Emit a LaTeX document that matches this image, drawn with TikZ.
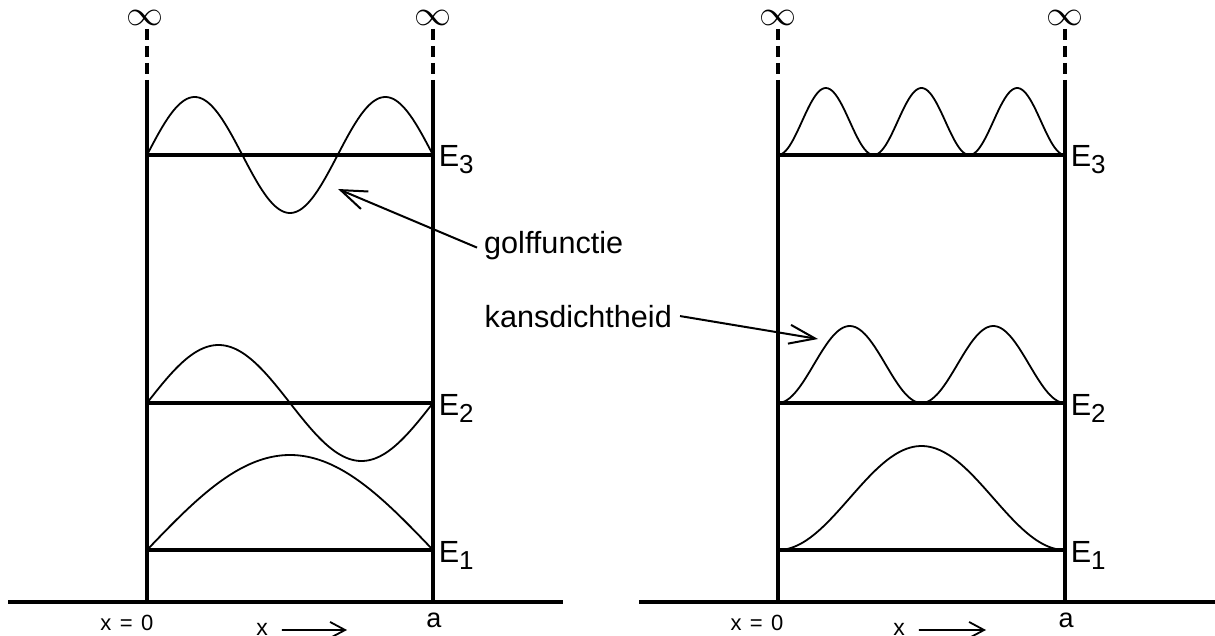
\documentclass[tikz,border=0pt]{standalone}
\usepackage{fontspec}
\setmainfont{Liberation Sans}
\usetikzlibrary{arrows.meta}
\tikzset{
  wall/.style={line width=3.2pt},
  wallinf/.style={line width=3.2pt, dash pattern=on 11pt off 6pt},
  level/.style={line width=3.2pt},
  wave/.style={line width=1.8pt, smooth},
  annot/.style={line width=2pt, -{Straight Barb[length=26pt,width=19pt,line width=2pt]}},
  xarrow/.style={line width=1.8pt, -{Straight Barb[length=15pt,width=16pt,line width=1.8pt]}},
  biglbl/.style={font=\fontsize{30.6}{36}\selectfont, inner sep=0pt},
  elbl/.style={font=\fontsize{30.6}{36}\selectfont, inner sep=0pt, anchor=base west},
  poslbl/.style={font=\fontsize{22}{26}\selectfont, inner sep=0pt},
  albl/.style={font=\fontsize{27}{30}\selectfont, inner sep=0pt, anchor=base},
  xlbl/.style={font=\fontsize{23}{27}\selectfont, inner sep=0pt, anchor=base},
  inflbl/.style={font=\fontsize{10}{12}\selectfont, inner sep=0pt},
}
\newcommand{\elab}[1]{E\raisebox{-7pt}{\fontsize{26}{30}\selectfont #1}}
\newcommand{\bigINF}{\scalebox{3.7}[3.5]{$\infty$}}
\newcommand{\xzero}{x\hspace{0.38em}=\hspace{0.38em}0}
\begin{document}
\begin{tikzpicture}[x=1pt,y=-1pt]
\useasboundingbox (0,0) rectangle (1215,636);

% ---------- coordinates ----------
% left panel
\coordinate (Lb0) at (8,602);   \coordinate (Lb1) at (563,602);
\coordinate (LwlB) at (147,602); \coordinate (LwlT) at (147,87); \coordinate (LwlD) at (147,29);
\coordinate (LwrB) at (433,602); \coordinate (LwrT) at (433,87); \coordinate (LwrD) at (433,29);
\coordinate (L1a) at (147,550); \coordinate (L1b) at (433,550);
\coordinate (L2a) at (147,403); \coordinate (L2b) at (433,403);
\coordinate (L3a) at (147,155); \coordinate (L3b) at (433,155);
% right panel
\coordinate (Rb0) at (639,602);  \coordinate (Rb1) at (1215,602);
\coordinate (RwlB) at (778,602); \coordinate (RwlT) at (778,87); \coordinate (RwlD) at (778,29);
\coordinate (RwrB) at (1065,602); \coordinate (RwrT) at (1065,87); \coordinate (RwrD) at (1065,29);
\coordinate (R1a) at (778,550); \coordinate (R1b) at (1065,550);
\coordinate (R2a) at (778,403); \coordinate (R2b) at (1065,403);
\coordinate (R3a) at (778,155); \coordinate (R3b) at (1065,155);

% ---------- axes and walls ----------
\draw[wall] (Lb0) -- (Lb1);
\draw[wall] (Rb0) -- (Rb1);
\draw[wall] (LwlB) -- (LwlT); \draw[wallinf] (LwlD) -- (LwlT);
\draw[wall] (LwrB) -- (LwrT); \draw[wallinf] (LwrD) -- (LwrT);
\draw[wall] (RwlB) -- (RwlT); \draw[wallinf] (RwlD) -- (RwlT);
\draw[wall] (RwrB) -- (RwrT); \draw[wallinf] (RwrD) -- (RwrT);

% ---------- energy levels ----------
\draw[level] (L1a) -- (L1b);
\draw[level] (L2a) -- (L2b);
\draw[level] (L3a) -- (L3b);
\draw[level] (R1a) -- (R1b);
\draw[level] (R2a) -- (R2b);
\draw[level] (R3a) -- (R3b);

% ---------- wave functions (left) ----------
\draw[wave] plot[domain=0:1, samples=90, variable=\t] ({147+286*\t},{550-95*sin(180*\t)});
\draw[wave] plot[domain=0:1, samples=120, variable=\t] ({147+286*\t},{403-58*sin(360*\t)});
\draw[wave] plot[domain=0:1, samples=150, variable=\t] ({147+286*\t},{155-58*sin(540*\t)});

% ---------- probability densities (right) ----------
\draw[wave] plot[domain=0:1, samples=90, variable=\t] ({778+287*\t},{550-104*(sin(180*\t))^2});
\draw[wave] plot[domain=0:1, samples=120, variable=\t] ({778+287*\t},{403-77*(sin(360*\t))^2});
\draw[wave] plot[domain=0:1, samples=150, variable=\t] ({778+287*\t},{155-67*(sin(540*\t))^2});

% ---------- infinity symbols ----------
\node[inflbl] (infLl) at (145,18) {\bigINF};
\node[inflbl] (infLr) at (433,18) {\bigINF};
\node[inflbl] (infRl) at (778,18) {\bigINF};
\node[inflbl] (infRr) at (1065,18) {\bigINF};

% ---------- energy labels ----------
\node[elbl] (eL3) at (438.6,167) {\elab{3}};
\node[elbl] (eL2) at (438.6,415) {\elab{2}};
\node[elbl] (eL1) at (438.6,562) {\elab{1}};
\node[elbl] (eR3) at (1070.6,167) {\elab{3}};
\node[elbl] (eR2) at (1070.6,415) {\elab{2}};
\node[elbl] (eR1) at (1070.6,562) {\elab{1}};

% ---------- annotations ----------
\node[biglbl, anchor=base west] (golf) at (484,253.5) {golffunctie};
\coordinate (gtip) at (338,189);
\draw[annot] ([xshift=-7pt,yshift=-2pt]golf.west) -- (gtip);

\node[biglbl, anchor=base west] (kans) at (484.5,327) {kansdichtheid};
\coordinate (ktip) at (818,339);
\draw[annot] ([xshift=8pt]kans.east) -- (ktip);

% ---------- x-axis labels ----------
\node[poslbl, anchor=base east] (x0L) at (153.5,630) {\xzero};
\node[poslbl, anchor=base east] (x0R) at (783.5,630) {\xzero};
\node[albl] (aL) at (434,627) {a};
\node[albl] (aR) at (1066,627) {a};
\node[xlbl] (xL) at (262,635) {x};
\node[xlbl] (xR) at (899,635) {x};
\coordinate (xLe) at (347,630);
\coordinate (xRe) at (986,630);
\draw[xarrow] ([xshift=14pt,yshift=-1pt]xL.east) -- (xLe);
\draw[xarrow] ([xshift=14pt,yshift=-1pt]xR.east) -- (xRe);
\end{tikzpicture}
\end{document}
